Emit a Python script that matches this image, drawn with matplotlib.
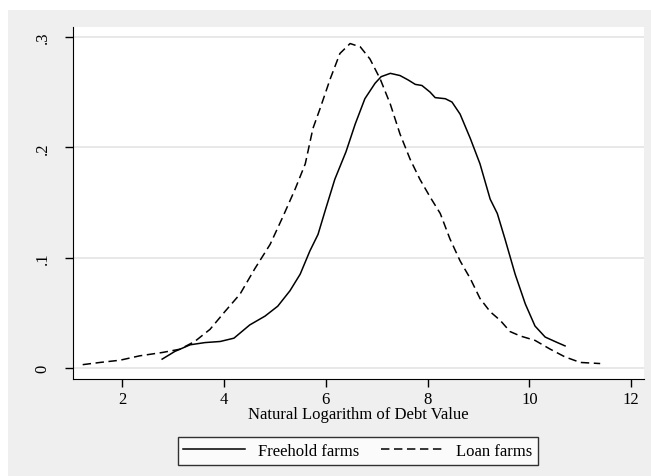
import matplotlib.pyplot as plt
from matplotlib.patches import Rectangle

plt.rcParams['font.family'] = ['Liberation Serif', 'DejaVu Serif']

# Kernel density estimates
freehold_x = [2.79, 3.04, 3.34, 3.63, 3.93, 4.2, 4.51, 4.81, 5.06, 5.3, 5.5, 5.69,
              5.85, 6.0, 6.18, 6.4, 6.58, 6.77, 6.97, 7.09, 7.27, 7.46, 7.62, 7.76,
              7.89, 8.05, 8.15, 8.35, 8.48, 8.64, 8.84, 9.03, 9.23, 9.37, 9.52, 9.72,
              9.92, 10.11, 10.31, 10.55, 10.7]
freehold_y = [0.008, 0.015, 0.021, 0.023, 0.024, 0.027, 0.039, 0.047, 0.056, 0.07,
              0.085, 0.106, 0.121, 0.144, 0.171, 0.196, 0.221, 0.244, 0.258, 0.264,
              0.267, 0.265, 0.261, 0.257, 0.256, 0.25, 0.245, 0.244, 0.241, 0.23,
              0.208, 0.185, 0.153, 0.14, 0.117, 0.085, 0.058, 0.038, 0.028, 0.023,
              0.02]

loan_x = [1.23, 1.57, 1.96, 2.35, 2.79, 3.14, 3.43, 3.73, 4.02, 4.32, 4.61, 4.91,
          5.16, 5.4, 5.6, 5.75, 5.89, 6.09, 6.28, 6.48, 6.68, 6.87, 7.07, 7.27,
          7.46, 7.66, 7.85, 8.05, 8.25, 8.44, 8.64, 8.84, 9.03, 9.23, 9.43, 9.62,
          9.82, 10.11, 10.41, 10.7, 11.0, 11.39]
loan_y = [0.003, 0.005, 0.007, 0.011, 0.014, 0.017, 0.024, 0.035, 0.051, 0.067,
          0.09, 0.112, 0.137, 0.162, 0.185, 0.217, 0.235, 0.262, 0.285, 0.294,
          0.291, 0.28, 0.262, 0.239, 0.212, 0.189, 0.171, 0.155, 0.14, 0.117,
          0.097, 0.081, 0.063, 0.051, 0.043, 0.033, 0.029, 0.025, 0.017, 0.01,
          0.005, 0.004]

x_ticks = [2, 4, 6, 8, 10, 12]
y_ticks = [0, 0.1, 0.2, 0.3]
y_labels = ['0', '.1', '.2', '.3']

W, H = 651, 477
fig = plt.figure(figsize=(W / 100, H / 100), dpi=100)
fig.patch.set_facecolor('white')
fig.patches.append(Rectangle((8 / W, 0), 1, (H - 11) / H, transform=fig.transFigure,
                             facecolor='#efefef', edgecolor='none', zorder=-10))

ax = fig.add_axes([73 / W, 97 / H, (644 - 73) / W, (380 - 28) / H])
ax.set_facecolor('white')

ax.plot(freehold_x, freehold_y, color='black', lw=1.1, label='Freehold farms')
ax.plot(loan_x, loan_y, color='black', lw=1.1, dashes=(5.5, 3), label='Loan farms')

ax.set_xlim(1.04, 12.25)
ax.set_ylim(-0.01, 0.309)
ax.set_xticks(x_ticks)
ax.set_yticks(y_ticks)
ax.set_yticklabels(y_labels, rotation=90, va='center')
ax.tick_params(direction='out', length=6, width=1, labelsize=12)
ax.tick_params(axis='x', pad=3)
ax.tick_params(axis='y', pad=10)
ax.yaxis.grid(True, color='#e6e6e6', lw=1.3)
ax.set_axisbelow(True)
for s in ['top', 'right']:
    ax.spines[s].set_visible(False)

ax.set_xlabel('Natural Logarithm of Debt Value', fontsize=12, labelpad=-1)

leg = fig.legend(loc='center', bbox_to_anchor=(358 / W, 1 - 452 / H), ncol=2,
                 frameon=True, fancybox=False, edgecolor='black', fontsize=12,
                 handlelength=3.7, columnspacing=1.3, borderpad=0.35)
leg.get_frame().set_linewidth(1.0)
leg.get_frame().set_facecolor('white')

fig.savefig('out.png', dpi=100)
